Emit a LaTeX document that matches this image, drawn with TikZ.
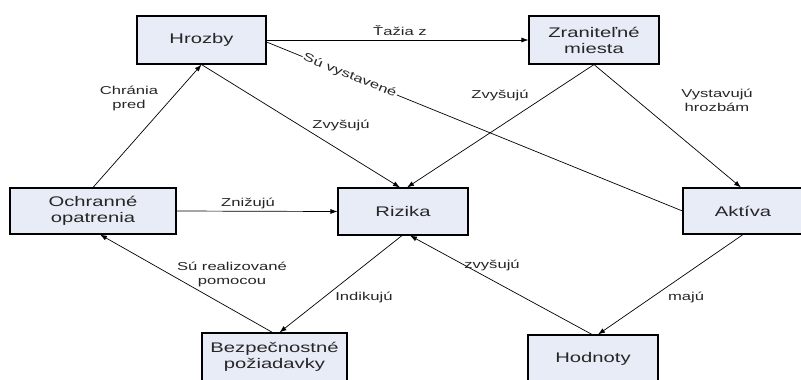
\documentclass[tikz,border=0pt]{standalone}
\usepackage{fontspec}
\setmainfont{Liberation Sans}[FakeStretch=1.45]
\usetikzlibrary{arrows.meta, positioning}
\definecolor{boxfill}{RGB}{232,236,247}

\tikzset{
  box/.style={draw, line width=1.1bp, fill=boxfill, align=center, inner sep=0pt,
    font=\fontsize{14}{16}\selectfont, text=black!85},
  rel/.style={line width=0.7bp, -{Latex[length=7bp,width=5bp]}},
  lbl/.style={font=\fontsize{11.5}{14}\selectfont, align=center, inner sep=1pt, text=black!85}
}

\begin{document}
\begin{tikzpicture}[x = 1bp, y = -1bp]

    \clip (0,0) rectangle (801,379);

    % Bloky
    \node[box, minimum width=129bp, minimum height=48bp] (hrozby) at (201.5,40) {Hrozby};
    \node[box, minimum width=130bp, minimum height=48bp] (zranitelne) at (594,40) {Zraniteľné\\miesta};
    \node[box, minimum width=166bp, minimum height=46bp] (ochranne) at (93,211) {Ochranné\\opatrenia};
    \node[box, minimum width=130bp, minimum height=47bp] (rizika) at (403,211.5) {Rizika};
    \node[box, minimum width=120bp, minimum height=46bp] (aktiva) at (743,211) {Aktíva};
    \node[box, minimum width=145bp, minimum height=48bp] (bezp) at (274.5,357) {Bezpečnostné\\požiadavky};
    \node[box, minimum width=130bp, minimum height=48bp] (hodnoty) at (593,359) {Hodnoty};

    % Vztahy
    \draw[rel] (hrozby.east) -- (zranitelne.west);
    \draw[line width=0.7bp] ([yshift=-2bp]hrozby.east) -- (aktiva.west)
        node[lbl, pos=0.2, sloped, fill=white] {Sú vystavené};
    \draw[rel] (ochranne.north) -- (hrozby.south);
    \draw[rel] (hrozby.south) -- ([xshift=-3bp]rizika.north);
    \draw[rel] (zranitelne.south) -- ([xshift=4bp]rizika.north);
    \draw[rel] (zranitelne.south) -- ([xshift=-2bp]aktiva.north);
    \draw[rel] (ochranne.east) -- (rizika.west);
    \draw[rel] ([xshift=-2bp]bezp.north) -- ([xshift=7bp]ochranne.south);
    \draw[rel] ([xshift=-1bp]rizika.south) -- ([xshift=5bp]bezp.north);
    \draw[rel] ([xshift=-1bp]hodnoty.north) -- ([xshift=7bp]rizika.south);
    \draw[rel] (aktiva.south) -- ([xshift=5bp]hodnoty.north);

    % Popisky
    \node[lbl] (l-tazia) at (400,31) {Ťažia z};
    \node[lbl] (l-chrania) at (129,98) {Chránia\\pred};
    \node[lbl] (l-zvys1) at (341,125) {Zvyšujú};
    \node[lbl] (l-zvys2) at (500,95) {Zvyšujú};
    \node[lbl] (l-vystavuju) at (717,100) {Vystavujú\\hrozbám};
    \node[lbl] (l-znizuju) at (248,203) {Znižujú};
    \node[lbl] (l-realiz) at (232,274) {Sú realizované\\pomocou};
    \node[lbl] (l-indikuju) at (364,297) {Indikujú};
    \node[lbl] (l-zvys3) at (492,265) {zvyšujú};
    \node[lbl] (l-maju) at (686,297) {majú};

\end{tikzpicture}
\end{document}
